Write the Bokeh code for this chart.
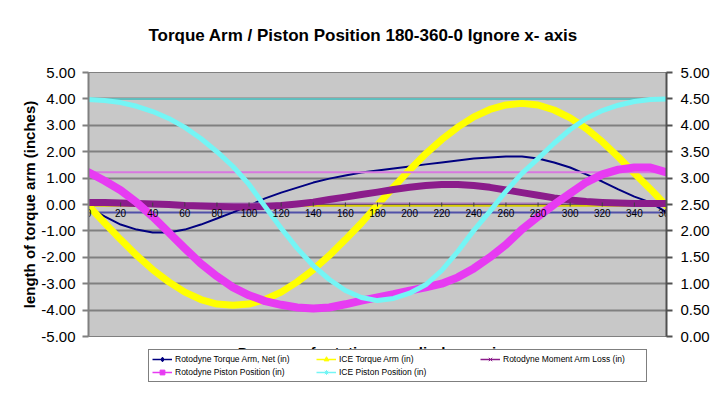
from bokeh.plotting import figure
from bokeh.layouts import column
from bokeh.models import (Range1d, LinearAxis, FixedTicker, NumeralTickFormatter,
                          Span, Legend, LegendItem)
from bokeh.core.properties import value
from bokeh.embed import file_html
from bokeh.resources import INLINE

FONT = "Liberation Sans"

# ---------------- data ----------------
degrees = [0, 10, 20, 30, 40, 50, 60, 70, 80, 90, 100, 110, 120, 130, 140, 150, 160, 170, 180,
           190, 200, 210, 220, 230, 240, 250, 260, 270, 280, 290, 300, 310, 320, 330, 340, 350, 360]

x_tick_values = [0, 20, 40, 60, 80, 100, 120, 140, 160, 180, 200, 220, 240, 260, 280, 300, 320, 340, 360]
x_tick_labels = ["0", "20", "40", "60", "80", "100", "120", "140", "160", "180", "200", "220",
                 "240", "260", "280", "300", "320", "340", "360"]
left_ticks = [-5, -4, -3, -2, -1, 0, 1, 2, 3, 4, 5]
right_ticks = [0, 0.5, 1, 1.5, 2, 2.5, 3, 3.5, 4, 4.5, 5]

# primary (left) axis series
rotodyne_torque_arm_net = [-0.11, -0.45, -0.76, -0.95, -1.06, -1.06, -0.95, -0.76, -0.53, -0.30,
                           -0.04, 0.23, 0.45, 0.64, 0.83, 0.98, 1.10, 1.21, 1.29, 1.36, 1.44,
                           1.52, 1.59, 1.67, 1.74, 1.78, 1.82, 1.82, 1.74, 1.59, 1.40, 1.14,
                           0.87, 0.57, 0.30, 0.08, -0.30]
ice_torque_arm = [-0.05, -0.70, -1.33, -1.93, -2.47, -2.93, -3.32, -3.60, -3.77, -3.82, -3.77,
                  -3.60, -3.32, -2.93, -2.47, -1.93, -1.33, -0.70, -0.02, 0.66, 1.31, 1.92,
                  2.46, 2.93, 3.32, 3.60, 3.77, 3.83, 3.77, 3.58, 3.28, 2.88, 2.38, 1.80,
                  1.18, 0.58, -0.05]
rotodyne_moment_arm_loss = [0.08, 0.08, 0.06, 0.04, 0.02, 0.00, -0.04, -0.06, -0.08, -0.09,
                            -0.09, -0.08, -0.04, 0.02, 0.09, 0.19, 0.28, 0.38, 0.47, 0.57,
                            0.65, 0.72, 0.76, 0.76, 0.72, 0.65, 0.55, 0.45, 0.35, 0.25, 0.17,
                            0.11, 0.08, 0.06, 0.04, 0.04, 0.04]
# secondary (right) axis series
rotodyne_piston_position = [3.11, 2.95, 2.77, 2.54, 2.27, 1.97, 1.67, 1.38, 1.14, 0.93, 0.78,
                            0.67, 0.60, 0.55, 0.53, 0.55, 0.61, 0.68, 0.74, 0.80, 0.87, 0.93,
                            1.00, 1.12, 1.29, 1.50, 1.74, 2.03, 2.27, 2.50, 2.71, 2.92, 3.07,
                            3.16, 3.20, 3.20, 3.11]
ice_piston_position = [4.49, 4.47, 4.43, 4.36, 4.26, 4.13, 3.96, 3.75, 3.50, 3.22, 2.88, 2.46,
                       2.05, 1.67, 1.34, 1.08, 0.87, 0.74, 0.68, 0.72, 0.82, 0.98, 1.25, 1.61,
                       2.01, 2.37, 2.75, 3.09, 3.37, 3.66, 3.92, 4.13, 4.28, 4.38, 4.45, 4.49,
                       4.50]

series_labels = ["Rotodyne Torque Arm, Net (in)", "ICE Torque Arm (in)",
                 "Rotodyne Moment Arm Loss (in)", "Rotodyne Piston Position (in)",
                 "ICE Piston Position (in)"]
chart_title = "Torque Arm / Piston Position 180-360-0 Ignore x- axis"
x_title = "Degrees of rotation on cylinder carriage"
y_title = "length of torque arm (inches)"

W = 712
FRAME_L, FRAME_R = 88, 667   # the column aligns every child's frame to the main chart's


def strip(height):
    f = figure(width=W, height=height, x_range=Range1d(FRAME_L, FRAME_R),
               y_range=Range1d(height, 0),
               x_axis_location=None, y_axis_location=None, output_backend="svg",
               toolbar_location=None, min_border=0, background_fill_color="white",
               border_fill_color="white")
    f.outline_line_color = None
    f.grid.visible = False
    return f


# ---------------- title strip ----------------
p0 = strip(63)
p0.text(x=[148], y=[35], text=[chart_title], text_font=value(FONT), text_font_size="17px",
        text_font_style="bold", text_align="left", text_baseline="alphabetic",
        text_color="black")

# ---------------- main chart ----------------
p = figure(width=W, height=282, x_range=Range1d(0, 360), y_range=Range1d(-5, 5),
           x_axis_location=None, output_backend="svg", toolbar_location=None,
           min_border_left=FRAME_L, min_border_right=W - FRAME_R, min_border_top=9,
           min_border_bottom=9, background_fill_color="#C8C8C8", border_fill_color="white")
p.outline_line_color = "#808080"
p.outline_line_width = 1

p.extra_y_ranges = {"right": Range1d(0, 5)}

p.yaxis.ticker = FixedTicker(ticks=left_ticks)
p.yaxis.formatter = NumeralTickFormatter(format="0.00")
p.yaxis.axis_line_color = "#808080"
p.yaxis.axis_line_width = 2
p.yaxis.major_tick_line_color = "#808080"
p.yaxis.major_tick_line_width = 2
p.yaxis.major_tick_out = 6
p.yaxis.major_tick_in = 0
p.yaxis.minor_tick_line_color = None
p.yaxis.major_label_standoff = 7
p.yaxis.major_label_text_font = FONT
p.yaxis.major_label_text_font_size = "15px"
p.yaxis.major_label_text_color = "black"
p.yaxis.axis_label = y_title
p.yaxis.axis_label_text_font = FONT
p.yaxis.axis_label_text_font_size = "15px"
p.yaxis.axis_label_text_font_style = "bold"
p.yaxis.axis_label_text_color = "black"
p.yaxis.axis_label_standoff = 0

ax_r = LinearAxis(y_range_name="right", ticker=FixedTicker(ticks=right_ticks),
                  formatter=NumeralTickFormatter(format="0.00"))
ax_r.axis_line_color = "#505050"
ax_r.axis_line_width = 2
ax_r.major_tick_line_color = "#505050"
ax_r.major_tick_line_width = 2
ax_r.major_tick_out = 6
ax_r.major_tick_in = 0
ax_r.minor_tick_line_color = None
ax_r.major_label_standoff = 8
ax_r.major_label_text_font = FONT
ax_r.major_label_text_font_size = "15px"
ax_r.major_label_text_color = "black"
p.add_layout(ax_r, "right")

p.ygrid.ticker = FixedTicker(ticks=left_ticks)
p.ygrid.grid_line_color = "#808080"
p.ygrid.grid_line_width = 2
p.xgrid.grid_line_color = None

# x axis line crossing at 0
p.add_layout(Span(location=0, dimension="width", line_color="black", line_width=1,
                  level="underlay"))

specs = [
    # data, color, band width, wrap color, marker, y range
    (rotodyne_torque_arm_net, "#000080", 2, "#5050A8", "diamond", "default"),
    (ice_torque_arm, "#FFFF00", 7, "#D8CC00", "triangle", "default"),
    (rotodyne_moment_arm_loss, "#8B1C8B", 7, "#A878B8", "x", "default"),
    (rotodyne_piston_position, "#E73BF2", 8, "#D878E0", "square", "right"),
    (ice_piston_position, "#74F5F5", 5, "#60BEBE", "asterisk", "right"),
]

for (vals, col, bw, wcol, mk, rng) in specs:
    p.line([degrees[-1], degrees[0]], [vals[-1], vals[-1]], line_color=wcol, line_width=2,
           y_range_name=rng)
    p.line(degrees, vals, line_color=col, line_width=bw, line_join="round", line_cap="round",
           y_range_name=rng)

# x tick marks and labels on the zero line
p.scatter(x_tick_values, [0] * len(x_tick_values), marker="dash", angle=1.5708, size=4,
          line_color="#404040")
p.text(x=x_tick_values, y=[0] * len(x_tick_values), text=x_tick_labels,
       text_font=value(FONT), text_font_size="10px", text_align="center",
       text_baseline="top", y_offset=4, text_color="black")

# ---------------- bottom strip: x title (mostly hidden) + legend ----------------
p2 = strip(38)
p2.text(x=[380], y=[-2], text=[x_title], text_font=value(FONT), text_font_size="15px",
        text_font_style="bold", text_align="center", text_baseline="top", text_color="black")
p2.extra_y_ranges = {"hidden": Range1d(100, 200)}
items = []
for (vals, col, bw, wcol, mk, rng), lab in zip(specs, series_labels):
    ln = p2.line(degrees, vals, line_color=col, line_width=1.5, y_range_name="hidden")
    sc = p2.scatter(degrees, vals, marker=mk, size=5, line_color=col, fill_color=col,
                    y_range_name="hidden")
    items.append(LegendItem(label=lab, renderers=[ln, sc]))

legend = Legend(items=items, location=(148 - FRAME_L, 1), orientation="horizontal", nrows=2,
                label_text_font=FONT, label_text_font_size="8.5px", label_text_color="black",
                glyph_width=20, glyph_height=12, label_height=12, label_width=140,
                label_standoff=3, spacing=1, padding=3, margin=0,
                border_line_color="black", border_line_width=1,
                background_fill_color="white", background_fill_alpha=1)
p2.add_layout(legend)

layout = column(p0, p, p2, spacing=0)
open("out.html", "w").write(file_html(layout, INLINE))
